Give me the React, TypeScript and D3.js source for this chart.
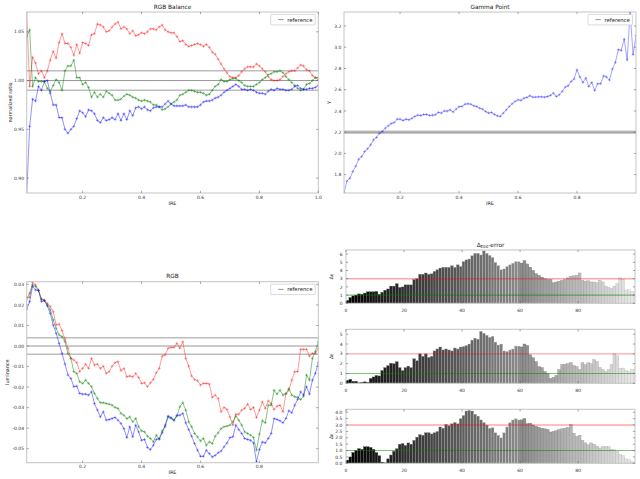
import React from 'react';
import * as d3 from 'd3';

const IRE = d3.range(1, 101).map((i) => i / 100);
const BAR_IDX = d3.range(0, 100);

const balanceR = [
  1.070, 0.994, 1.024, 1.018, 1.007, 1.010, 1.003, 1.010, 1.021, 1.030,
  1.023, 1.039, 1.048, 1.038, 1.038, 1.034, 1.026, 1.037, 1.028, 1.039,
  1.038, 1.036, 1.047, 1.048, 1.058, 1.057, 1.055, 1.050, 1.051, 1.055,
  1.058, 1.060, 1.053, 1.055, 1.053, 1.048, 1.051, 1.046, 1.047, 1.049,
  1.048, 1.050, 1.053, 1.053, 1.052, 1.055, 1.057, 1.052, 1.050, 1.049,
  1.049, 1.045, 1.040, 1.041, 1.037, 1.035, 1.036, 1.037, 1.038, 1.037,
  1.035, 1.037, 1.034, 1.029, 1.027, 1.022, 1.017, 1.012, 1.008, 1.004,
  1.003, 1.003, 1.005, 1.009, 1.012, 1.014, 1.014, 1.014, 1.017, 1.015,
  1.012, 1.009, 1.004, 1.001, 1.000, 1.000, 1.001, 1.004, 1.007, 1.009,
  1.010, 1.010, 1.013, 1.016, 1.015, 1.011, 1.010, 1.005, 1.003, 1.001,
];
const balanceG = [
  1.045, 1.052, 0.994, 1.003, 0.999, 0.999, 0.999, 0.992, 0.989, 0.995,
  1.001, 0.998, 0.990, 1.010, 1.015, 1.015, 1.021, 1.003, 1.003, 0.996,
  0.998, 0.993, 0.983, 0.988, 0.983, 0.986, 0.983, 0.989, 0.987, 0.985,
  0.980, 0.980, 0.981, 0.984, 0.986, 0.985, 0.983, 0.982, 0.980, 0.979,
  0.980, 0.979, 0.978, 0.975, 0.975, 0.973, 0.970, 0.971, 0.973, 0.976,
  0.978, 0.980, 0.985, 0.986, 0.988, 0.990, 0.990, 0.989, 0.988, 0.988,
  0.987, 0.985, 0.986, 0.990, 0.994, 0.996, 1.001, 0.999, 0.999, 1.001,
  1.002, 1.002, 1.000, 0.998, 0.995, 0.994, 0.994, 0.994, 0.996, 0.998,
  1.001, 1.003, 1.006, 1.007, 1.009, 1.009, 1.010, 1.008, 1.004, 1.001,
  0.998, 0.995, 0.992, 0.990, 0.991, 0.996, 0.997, 1.000, 1.003, 1.003,
];
const balanceB = [
  0.884, 0.953, 0.981, 0.979, 0.994, 0.990, 0.999, 1.000, 0.987, 0.975,
  0.975, 0.962, 0.962, 0.950, 0.946, 0.950, 0.953, 0.961, 0.969, 0.967,
  0.963, 0.970, 0.969, 0.966, 0.959, 0.957, 0.962, 0.959, 0.960, 0.962,
  0.960, 0.966, 0.959, 0.966, 0.960, 0.969, 0.964, 0.972, 0.973, 0.971,
  0.973, 0.970, 0.969, 0.972, 0.973, 0.973, 0.973, 0.976, 0.979, 0.976,
  0.974, 0.974, 0.974, 0.974, 0.975, 0.973, 0.973, 0.973, 0.973, 0.975,
  0.978, 0.979, 0.979, 0.980, 0.982, 0.983, 0.985, 0.988, 0.990, 0.992,
  0.994, 0.996, 0.994, 0.991, 0.991, 0.990, 0.991, 0.990, 0.988, 0.987,
  0.987, 0.986, 0.989, 0.991, 0.990, 0.992, 0.991, 0.991, 0.990, 0.990,
  0.991, 0.994, 0.995, 0.992, 0.991, 0.991, 0.992, 0.992, 0.993, 0.995,
];

const gammaPoint = [
  1.63, 1.74, 1.766, 1.83, 1.88, 1.945, 1.97, 2.018, 2.043, 2.08,
  2.128, 2.15, 2.19, 2.206, 2.238, 2.26, 2.28, 2.29, 2.323, 2.323,
  2.31, 2.323, 2.316, 2.33, 2.348, 2.36, 2.357, 2.367, 2.367, 2.357,
  2.36, 2.364, 2.386, 2.38, 2.40, 2.398, 2.41, 2.39, 2.417, 2.44,
  2.442, 2.464, 2.467, 2.464, 2.448, 2.442, 2.426, 2.417, 2.395, 2.38,
  2.386, 2.367, 2.354, 2.348, 2.38, 2.41, 2.442, 2.467, 2.49, 2.505,
  2.50, 2.52, 2.527, 2.543, 2.53, 2.53, 2.533, 2.533, 2.53, 2.536,
  2.546, 2.568, 2.536, 2.552, 2.584, 2.625, 2.637, 2.678, 2.70, 2.788,
  2.72, 2.668, 2.71, 2.63, 2.668, 2.593, 2.656, 2.656, 2.73, 2.72,
  2.69, 2.794, 2.857, 2.977, 2.97, 3.077, 2.88, 3.33, 2.93, 3.11,
];

const lumR = [
  0.0237, 0.0237, 0.0310, 0.0298, 0.0273, 0.0228, 0.0224, 0.0208, 0.0192, 0.0167,
  0.0102, 0.0107, 0.0075, 0.0033, -0.0011, -0.0060, -0.0068, -0.0081, -0.0125, -0.0109,
  -0.0088, -0.0109, -0.0060, -0.0093, -0.0088, -0.0109, -0.0098, -0.0133, -0.0125, -0.0098,
  -0.0081, -0.0076, -0.0120, -0.0109, -0.0150, -0.0146, -0.0150, -0.0133, -0.0153, -0.0182,
  -0.0179, -0.0198, -0.0179, -0.0163, -0.0130, -0.0109, -0.0049, -0.0044, -0.0011, -0.0007,
  -0.0007, 0.0013, -0.0011, 0.0021, -0.0060, -0.0098, -0.0146, -0.0163, -0.0169, -0.0190,
  -0.0182, -0.0182, -0.0185, -0.0250, -0.0239, -0.0255, -0.0320, -0.0299, -0.0309, -0.0345,
  -0.0385, -0.0332, -0.0332, -0.0312, -0.0304, -0.0283, -0.0309, -0.0299, -0.0348, -0.0312,
  -0.0272, -0.0304, -0.0267, -0.0280, -0.0309, -0.0293, -0.0288, -0.0320, -0.0234, -0.0215,
  -0.0166, -0.0125, -0.0125, -0.0016, -0.0016, -0.0016, -0.0049, -0.0036, -0.0036, -0.0011,
];
const lumG = [
  0.0228, 0.0257, 0.0298, 0.0290, 0.0270, 0.0228, 0.0221, 0.0200, 0.0176, 0.0127,
  0.0086, 0.0054, 0.0046, 0.0021, -0.0036, -0.0060, -0.0125, -0.0133, -0.0174, -0.0182,
  -0.0166, -0.0182, -0.0198, -0.0231, -0.0255, -0.0276, -0.0276, -0.0280, -0.0283, -0.0288,
  -0.0299, -0.0304, -0.0328, -0.0337, -0.0353, -0.0345, -0.0369, -0.0353, -0.0393, -0.0413,
  -0.0418, -0.0439, -0.0450, -0.0467, -0.0434, -0.0455, -0.0413, -0.0393, -0.0345, -0.0353,
  -0.0361, -0.0341, -0.0296, -0.0276, -0.0312, -0.0369, -0.0393, -0.0426, -0.0442, -0.0462,
  -0.0450, -0.0483, -0.0467, -0.0475, -0.0439, -0.0423, -0.0402, -0.0393, -0.0390, -0.0385,
  -0.0369, -0.0341, -0.0361, -0.0385, -0.0418, -0.0426, -0.0434, -0.0446, -0.0507, -0.0429,
  -0.0364, -0.0374, -0.0288, -0.0288, -0.0215, -0.0234, -0.0215, -0.0239, -0.0231, -0.0207,
  -0.0239, -0.0247, -0.0250, -0.0260, -0.0244, -0.0141, -0.0166, -0.0060, -0.0028, 0.0021,
];
const lumB = [
  0.0179, 0.0216, 0.0290, 0.0273, 0.0270, 0.0216, 0.0221, 0.0195, 0.0159, 0.0102,
  0.0062, 0.0013, -0.0036, -0.0088, -0.0141, -0.0158, -0.0198, -0.0195, -0.0231, -0.0234,
  -0.0234, -0.0239, -0.0223, -0.0280, -0.0312, -0.0345, -0.0320, -0.0361, -0.0358, -0.0353,
  -0.0348, -0.0361, -0.0377, -0.0402, -0.0446, -0.0393, -0.0442, -0.0385, -0.0418, -0.0459,
  -0.0455, -0.0494, -0.0504, -0.0483, -0.0455, -0.0450, -0.0423, -0.0385, -0.0341, -0.0348,
  -0.0361, -0.0337, -0.0337, -0.0328, -0.0374, -0.0407, -0.0439, -0.0475, -0.0507, -0.0537,
  -0.0537, -0.0507, -0.0524, -0.0540, -0.0532, -0.0520, -0.0511, -0.0491, -0.0472, -0.0446,
  -0.0442, -0.0385, -0.0407, -0.0426, -0.0450, -0.0455, -0.0459, -0.0472, -0.0564, -0.0504,
  -0.0467, -0.0472, -0.0450, -0.0426, -0.0353, -0.0358, -0.0364, -0.0374, -0.0353, -0.0315,
  -0.0325, -0.0288, -0.0260, -0.0223, -0.0239, -0.0198, -0.0234, -0.0166, -0.0133, -0.0081,
];

const deltaE1 = [
  0.35, 0.7, 0.9, 1.0, 1.15, 1.1, 1.25, 1.4, 1.4, 1.4,
  1.45, 1.1, 1.35, 1.6, 1.75, 2.1, 2.1, 2.4, 1.95, 2.0,
  2.25, 2.25, 2.25, 2.9, 3.0, 3.55, 3.55, 3.7, 3.55, 3.6,
  3.9, 4.1, 4.3, 4.4, 4.4, 4.4, 4.6, 4.4, 4.7, 4.5,
  5.1, 5.3, 5.4, 5.8, 6.1, 6.1, 5.9, 6.4, 6.1, 5.85,
  5.6, 5.0, 4.6, 4.1, 4.2, 4.5, 4.7, 4.9, 5.1, 5.1,
  4.9, 5.2, 4.8, 4.4, 4.0, 3.6, 3.4, 3.2, 3.0, 2.9,
  2.9, 2.5, 2.6, 2.7, 2.8, 2.9, 3.1, 3.3, 3.35, 3.4,
  3.7, 2.8, 2.7, 2.75, 2.6, 2.6, 2.5, 2.8, 2.6, 2.1,
  1.9, 1.8, 2.1, 2.4, 3.1, 2.9, 1.6, 1.65, 1.4, 1.4,
];
const deltaE2 = [
  0.3, 0.4, 0.2, 0.2, 0.05, 0.1, 0.15, 0.1, 0.5, 0.65,
  0.8, 0.75, 1.3, 1.6, 1.8, 2.05, 2.0, 2.2, 1.6, 1.3,
  1.6, 1.75, 1.6, 2.5, 2.3, 3.0, 2.75, 3.0, 2.65, 2.75,
  3.3, 3.5, 3.7, 3.4, 3.5, 3.4, 3.3, 3.6, 3.5, 3.7,
  3.75, 3.85, 4.0, 4.4, 4.6, 4.5, 5.3, 5.1, 4.9, 4.7,
  4.8, 4.2, 3.9, 4.0, 3.3, 3.25, 3.4, 3.5, 3.8, 3.8,
  3.7, 4.0, 3.85, 2.9, 2.6, 2.2, 1.7, 1.6, 1.2, 1.0,
  0.5, 0.6, 0.8, 1.4, 1.9, 1.95, 2.0, 2.1, 1.8, 1.7,
  1.4, 2.1, 1.9, 2.1, 2.0, 2.4, 2.2, 1.6, 1.4, 1.2,
  1.4, 1.9, 3.0, 2.8, 1.5, 1.55, 1.3, 1.2, 1.4, 1.4,
];
const deltaE3 = [
  0.25, 0.5, 0.85, 1.0, 1.15, 1.1, 1.3, 1.3, 1.25, 1.1,
  0.85, 0.6, 0.1, 0.05, 0.35, 0.65, 0.95, 1.15, 1.5, 1.55,
  1.4, 1.6, 1.5, 1.8, 2.05, 2.25, 2.2, 2.4, 2.4, 2.3,
  2.4, 2.5, 2.85, 2.75, 3.05, 2.95, 3.1, 3.2, 3.1, 3.5,
  3.75, 4.1, 4.15, 4.1, 3.85, 3.7, 3.4, 3.2, 3.0, 2.75,
  2.8, 2.4, 2.2, 2.0, 2.4, 2.85, 3.2, 3.4, 3.5, 3.4,
  3.4, 3.5, 3.1, 3.15, 3.0, 2.9, 2.8, 2.75, 2.7, 2.65,
  2.45, 2.5, 2.55, 2.65, 2.7, 2.75, 2.8, 3.05, 2.35, 2.1,
  2.2, 1.8, 1.6, 1.45, 1.6, 1.5, 1.35, 1.2, 1.3, 1.3,
  1.3, 1.1, 1.05, 0.95, 0.7, 0.6, 0.35, 0.3, 0.15, 0.1,
];

const FONT = "'DejaVu Sans', 'Bitstream Vera Sans', sans-serif";
const TICK_FS = 4.5;
const LABEL_FS = 4.9;
const TITLE_FS = 5.8;

type Box = { x0: number; x1: number; y0: number; y1: number };
type Series = { values: number[]; color: string; opacity: number };
type Ref = { v: number; color: string; width: number };

function Axes(props: {
  box: Box;
  x: (v: number) => number;
  y: (v: number) => number;
  xTicks: number[];
  yTicks: number[];
  xFmt: (v: number) => string;
  yFmt: (v: number) => string;
  xLabelOff: number;
  yLabelOff: number;
}) {
  const { box, x, y, xTicks, yTicks, xFmt, yFmt, xLabelOff, yLabelOff } = props;
  const tl = 2.2;
  const tc = '#555';
  return (
    <g fontFamily={FONT} fontSize={TICK_FS} fill="#333">
      <rect x={box.x0} y={box.y0} width={box.x1 - box.x0} height={box.y1 - box.y0} fill="none" stroke="#c4c4c4" strokeWidth={1} />
      {xTicks.map((t) => {
        const px = x(t);
        return (
          <g key={'x' + t}>
            <line x1={px} x2={px} y1={box.y1} y2={box.y1 - tl} stroke={tc} strokeWidth={0.5} />
            <line x1={px} x2={px} y1={box.y0} y2={box.y0 + tl} stroke={tc} strokeWidth={0.5} />
            <text x={px} y={box.y1 + xLabelOff} textAnchor="middle">{xFmt(t)}</text>
          </g>
        );
      })}
      {yTicks.map((t) => {
        const py = y(t);
        return (
          <g key={'y' + t}>
            <line x1={box.x0} x2={box.x0 + tl} y1={py} y2={py} stroke={tc} strokeWidth={0.5} />
            <line x1={box.x1} x2={box.x1 - tl} y1={py} y2={py} stroke={tc} strokeWidth={0.5} />
            <text x={box.x0 - yLabelOff} y={py + 1.6} textAnchor="end">{yFmt(t)}</text>
          </g>
        );
      })}
    </g>
  );
}

function Legend({ box, dx, dy }: { box: Box; dx: number; dy: number }) {
  const lx = box.x1 - dx;
  const ly = box.y0 + dy;
  return (
    <g fontFamily={FONT}>
      <rect x={lx} y={ly} width={44.5} height={10.5} fill="#fff" stroke="#c8c8c8" strokeWidth={0.7} rx={0.8} />
      <line x1={lx + 7.5} x2={lx + 12.8} y1={ly + 5.25} y2={ly + 5.25} stroke="#888" strokeWidth={0.9} />
      <text x={lx + 16.5} y={ly + 7.2} fontSize={5.3} fill="#222">reference</text>
    </g>
  );
}

function LinePanel(props: {
  id: string;
  box: Box;
  xDomain: [number, number];
  yDomain: [number, number];
  xTicks: number[];
  yTicks: number[];
  xFmt: (v: number) => string;
  yFmt: (v: number) => string;
  title: string;
  titleY: number;
  ylabel: string;
  ylabelX: number;
  ylabelFs?: number;
  series: Series[];
  refs: Ref[];
  legendDx: number;
}) {
  const p = props;
  const { box } = p;
  const x = d3.scaleLinear().domain(p.xDomain).range([box.x0, box.x1]);
  const y = d3.scaleLinear().domain(p.yDomain).range([box.y1, box.y0]);
  const line = d3
    .line<number>()
    .x((_, i) => x(IRE[i]))
    .y((d) => y(d));
  const cx = (box.x0 + box.x1) / 2;
  const cy = (box.y0 + box.y1) / 2;
  return (
    <g>
      <defs>
        <clipPath id={p.id}>
          <rect x={box.x0} y={box.y0} width={box.x1 - box.x0} height={box.y1 - box.y0} />
        </clipPath>
      </defs>
      <rect x={box.x0} y={box.y0} width={box.x1 - box.x0} height={box.y1 - box.y0} fill="#fff" />
      <g clipPath={`url(#${p.id})`}>
        {p.refs.map((r, i) => (
          <line key={i} x1={box.x0} x2={box.x1} y1={y(r.v)} y2={y(r.v)} stroke={r.color} strokeWidth={r.width} />
        ))}
        {p.series.map((s, si) => (
          <g key={si} stroke={s.color} strokeOpacity={s.opacity} fill="none">
            <path d={line(s.values) || ''} strokeWidth={0.8} />
            {s.values.map((v, i) => {
              const px = x(IRE[i]);
              const py = y(v);
              return (
                <path key={i} d={`M${px - 1.5},${py}H${px + 1.5}M${px},${py - 1.5}V${py + 1.5}`} strokeWidth={0.6} />
              );
            })}
          </g>
        ))}
      </g>
      <Axes box={box} x={x} y={y} xTicks={p.xTicks} yTicks={p.yTicks} xFmt={p.xFmt} yFmt={p.yFmt} xLabelOff={5.7} yLabelOff={2.6} />
      <text x={cx} y={p.titleY} textAnchor="middle" fontFamily={FONT} fontSize={TITLE_FS} fill="#222">{p.title}</text>
      <text x={cx} y={box.y1 + 11.6} textAnchor="middle" fontFamily={FONT} fontSize={LABEL_FS} fill="#222">IRE</text>
      <text
        transform={`translate(${p.ylabelX},${cy}) rotate(-90)`}
        textAnchor="middle"
        fontFamily={FONT}
        fontSize={p.ylabelFs ?? LABEL_FS}
        fill="#222"
      >
        {p.ylabel}
      </text>
      <Legend box={box} dx={p.legendDx} dy={2.4} />
    </g>
  );
}

function BarPanel(props: {
  id: string;
  box: Box;
  values: number[];
  yMax: number;
  yTicks: number[];
  yFmt: (v: number) => string;
  title?: boolean;
}) {
  const { box, values } = props;
  const x = d3.scaleLinear().domain([0, 99.6]).range([box.x0, box.x1]);
  const y = d3.scaleLinear().domain([0, props.yMax]).range([box.y1, box.y0]);
  const bw = x(1) - x(0);
  const cx = (box.x0 + box.x1) / 2;
  const cy = (box.y0 + box.y1) / 2;
  return (
    <g>
      <defs>
        <clipPath id={props.id}>
          <rect x={box.x0} y={box.y0} width={box.x1 - box.x0} height={box.y1 - box.y0} />
        </clipPath>
      </defs>
      <rect x={box.x0} y={box.y0} width={box.x1 - box.x0} height={box.y1 - box.y0} fill="#fff" />
      <g clipPath={`url(#${props.id})`}>
        {BAR_IDX.map((i) => {
          const g = Math.round((i / 100) * 235);
          const fill = `rgb(${g},${g},${g})`;
          const sg = i < 60 ? Math.min(255, g + 90) : Math.max(0, g - 40);
          return (
            <rect
              key={i}
              x={x(i)}
              y={y(values[i])}
              width={bw}
              height={y(0) - y(values[i])}
              fill={fill}
              stroke={`rgb(${sg},${sg},${sg})`}
              strokeWidth={0.35}
            />
          );
        })}
        <line x1={box.x0} x2={box.x1} y1={y(3)} y2={y(3)} stroke="#ff0000" strokeOpacity={0.35} strokeWidth={1.4} />
        <line x1={box.x0} x2={box.x1} y1={y(1)} y2={y(1)} stroke="#008000" strokeOpacity={0.5} strokeWidth={1.1} />
      </g>
      <Axes
        box={box}
        x={x}
        y={y}
        xTicks={[0, 20, 40, 60, 80]}
        yTicks={props.yTicks}
        xFmt={(v) => String(v)}
        yFmt={props.yFmt}
        xLabelOff={8.8}
        yLabelOff={3.5}
      />
      {props.title && (
        <text x={cx} y={box.y0 - 2.8} textAnchor="middle" fontFamily={FONT} fontSize={TITLE_FS} fill="#222">
          Δ<tspan fontSize={4} dy={1.2}>E00</tspan>
          <tspan dy={-1.2}>-error</tspan>
        </text>
      )}
      <text
        transform={`translate(${box.x0 - 13},${cy}) rotate(-90)`}
        textAnchor="middle"
        fontFamily={FONT}
        fontSize={LABEL_FS}
        fill="#222"
      >
        Δ<tspan fontSize={3.5}>E</tspan>
      </text>
    </g>
  );
}

export default function App() {
  const f2 = d3.format('.2f');
  const f1 = d3.format('.1f');
  const gray = (c: string, w: number): Ref => ({ v: 0, color: c, width: w });
  return (
    <svg width={640} height={479} viewBox="0 0 640 479" style={{ display: 'block', position: 'absolute', left: 0, top: 0, background: '#fff' }}>
      <rect x={0} y={0} width={640} height={479} fill="#fff" />
      <LinePanel
        id="c1"
        box={{ x0: 26.7, x1: 318.3, y0: 12, y1: 193 }}
        xDomain={[0.01, 1.0]}
        yDomain={[0.8847, 1.0703]}
        xTicks={[0.2, 0.4, 0.6, 0.8, 1.0]}
        yTicks={[0.9, 0.95, 1.0, 1.05]}
        xFmt={f1}
        yFmt={f2}
        title="RGB Balance"
        titleY={8.8}
        ylabel="normalized ratio"
        ylabelX={11.5}
        series={[
          { values: balanceR, color: '#ff0000', opacity: 0.5 },
          { values: balanceG, color: '#008000', opacity: 0.6 },
          { values: balanceB, color: '#0000ff', opacity: 0.55 },
        ]}
        refs={[
          { ...gray('#bdbdbd', 1.6), v: 1.01 },
          { ...gray('#bdbdbd', 1.6), v: 0.99 },
          { ...gray('#8a8a8a', 0.9), v: 1.0 },
        ]}
        legendDx={47.6}
      />
      <LinePanel
        id="c2"
        box={{ x0: 344, x1: 636, y0: 12, y1: 193 }}
        xDomain={[0.01, 1.0]}
        yDomain={[1.627, 3.332]}
        xTicks={[0.2, 0.4, 0.6, 0.8]}
        yTicks={[1.8, 2.0, 2.2, 2.4, 2.6, 2.8, 3.0, 3.2]}
        xFmt={f1}
        yFmt={f1}
        title="Gamma Point"
        titleY={8.8}
        ylabel="γ"
        ylabelX={330}
        series={[{ values: gammaPoint, color: '#0000ff', opacity: 0.45 }]}
        refs={[
          { ...gray('#a8a8a8', 0.9), v: 2.19 },
          { ...gray('#a8a8a8', 0.9), v: 2.21 },
          { ...gray('#808080', 0.9), v: 2.2 },
        ]}
        legendDx={48}
      />
      <LinePanel
        id="c3"
        box={{ x0: 26.7, x1: 318.3, y0: 281.7, y1: 462.7 }}
        xDomain={[0.01, 1.0]}
        yDomain={[-0.0568, 0.0313]}
        xTicks={[0.2, 0.4, 0.6, 0.8]}
        yTicks={[-0.05, -0.04, -0.03, -0.02, -0.01, 0, 0.01, 0.02, 0.03]}
        xFmt={f1}
        yFmt={(v) => f2(v).replace('−', '-')}
        title="RGB"
        titleY={278.3}
        ylabel="luminance"
        ylabelX={9}
        series={[
          { values: lumR, color: '#ff0000', opacity: 0.5 },
          { values: lumG, color: '#008000', opacity: 0.6 },
          { values: lumB, color: '#0000ff', opacity: 0.55 },
        ]}
        refs={[
          { ...gray('#bdbdbd', 1.6), v: 0.004 },
          { ...gray('#bdbdbd', 1.6), v: -0.004 },
          { ...gray('#8a8a8a', 0.9), v: 0 },
        ]}
        legendDx={47.6}
      />
      <BarPanel
        id="b1"
        box={{ x0: 346, x1: 635, y0: 250, y1: 303.3 }}
        values={deltaE1}
        yMax={6.5}
        yTicks={[0, 1, 2, 3, 4, 5, 6]}
        yFmt={(v) => String(v)}
        title
      />
      <BarPanel
        id="b2"
        box={{ x0: 346, x1: 635, y0: 329.3, y1: 383.3 }}
        values={deltaE2}
        yMax={5.5}
        yTicks={[0, 1, 2, 3, 4, 5]}
        yFmt={(v) => String(v)}
      />
      <BarPanel
        id="b3"
        box={{ x0: 346, x1: 635, y0: 409.3, y1: 463.3 }}
        values={deltaE3}
        yMax={4.23}
        yTicks={[0, 0.5, 1, 1.5, 2, 2.5, 3, 3.5, 4]}
        yFmt={f1}
      />
    </svg>
  );
}
